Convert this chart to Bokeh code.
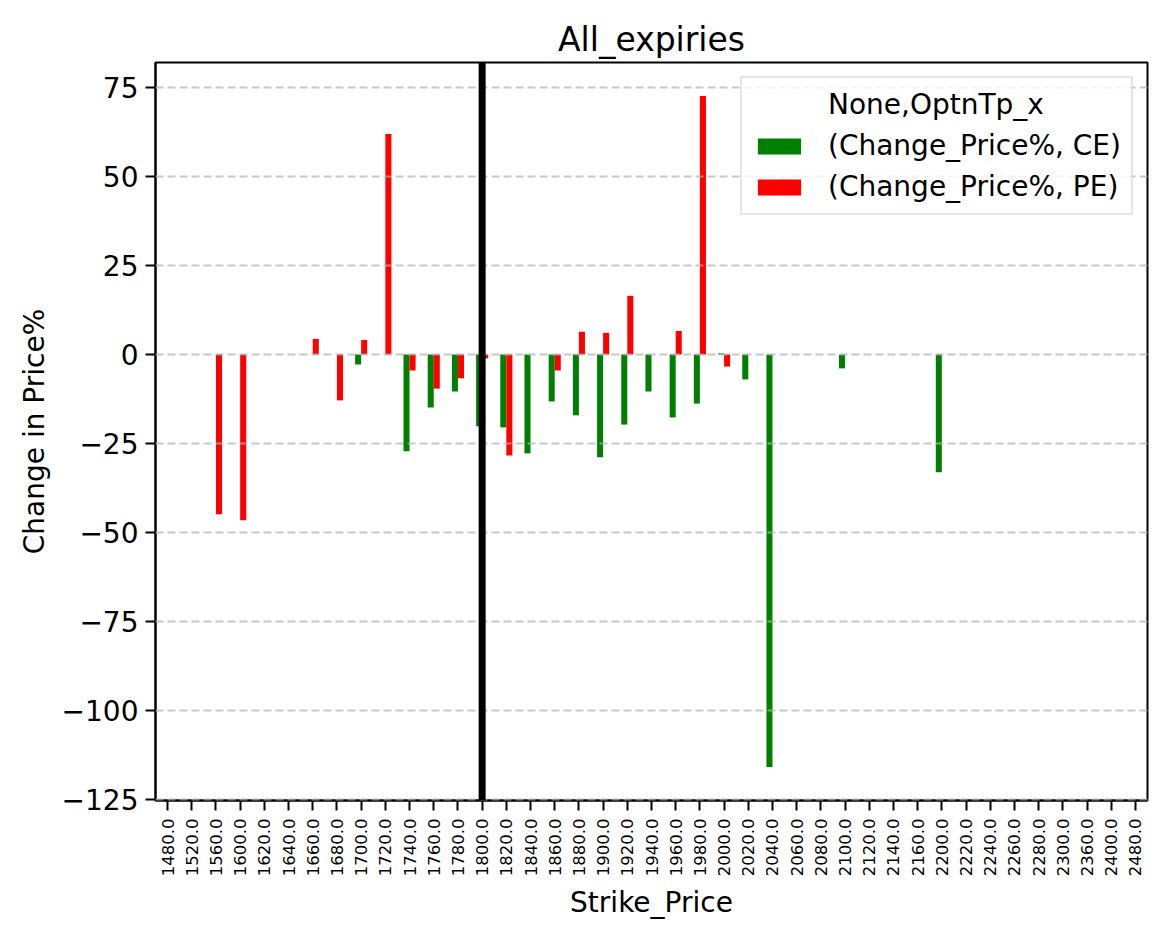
import math
import numpy as np
from bokeh.plotting import figure
from bokeh.models import (ColumnDataSource, FactorRange, Range1d, FixedTicker, Span,
                          Legend, LegendItem)
from bokeh.transform import dodge
from bokeh.embed import file_html
from bokeh.resources import INLINE

nan = float("nan")

strikes = [1480, 1520, 1560, 1600, 1620, 1640, 1660, 1680, 1700, 1720, 1740, 1760,
           1780, 1800, 1820, 1840, 1860, 1880, 1900, 1920, 1940, 1960, 1980, 2000,
           2020, 2040, 2060, 2080, 2100, 2120, 2140, 2160, 2200, 2220, 2240, 2260,
           2280, 2300, 2360, 2400, 2480]

ce_change = [nan, nan, nan, nan, nan, nan, nan, nan, -2.8, nan, -27.2, -14.9,
             -10.4, -20.2, -20.5, -27.8, -13.2, -17.1, -28.9, -19.7, -10.4, -17.7, -13.8, 0.3,
             -7.0, -116.0, nan, nan, -3.9, nan, nan, nan, -33.1, nan, nan, nan,
             nan, nan, nan, nan, nan]

pe_change = [nan, nan, -44.9, -46.6, nan, nan, 4.4, -12.9, 4.1, 62.0, -4.5, -9.6,
             -6.7, -1.1, -28.4, nan, -4.5, 6.4, 6.1, 16.5, nan, 6.6, 72.7, -3.4,
             nan, nan, nan, nan, nan, nan, nan, nan, nan, nan, nan, nan,
             nan, nan, nan, nan, nan]

spot_strike = 1800

y_ticks = [-125, -100, -75, -50, -25, 0, 25, 50, 75]
y_tick_labels = ["\u2212125", "\u2212100", "\u221275", "\u221250", "\u221225", "0", "25", "50", "75"]

title_text = "All_expiries"
x_label = "Strike_Price"
y_label = "Change in Price%"
legend_title = "None,OptnTp_x"
ce_label = "(Change_Price%, CE)"
pe_label = "(Change_Price%, PE)"

factors = [f"{s:.1f}" for s in strikes]
source = ColumnDataSource(data=dict(
    strike=factors,
    ce=np.array(ce_change, dtype=float),
    pe=np.array(pe_change, dtype=float),
))

FONT = "DejaVu Sans"

p = figure(width=1158, height=931, x_range=FactorRange(*factors),
           y_range=Range1d(-125.4, 82.1),
           output_backend="svg", toolbar_location=None,
           min_border_left=155, min_border_right=11, min_border_top=62,
           min_border_bottom=131)

p.title.text = title_text
p.title.align = "center"
p.title.text_font = FONT
p.title.text_font_size = "33px"
p.title.text_font_style = "normal"
p.title.text_color = "black"
p.title.standoff = 7

ce_r = p.vbar(x=dodge("strike", -0.125, range=p.x_range), top="ce", bottom=0, width=0.25,
              source=source, fill_color="green", line_color=None)
pe_r = p.vbar(x=dodge("strike", 0.125, range=p.x_range), top="pe", bottom=0, width=0.25,
              source=source, fill_color="red", line_color=None)

# dummy renderer used to hold the legend's title row
dummy_src = ColumnDataSource(data=dict(x=[], top=[]))
dummy_r = p.vbar(x="x", top="top", width=0.25, source=dummy_src,
                 fill_alpha=0, line_alpha=0)

# grid
p.xgrid.visible = False
p.ygrid.ticker = FixedTicker(ticks=y_ticks)
p.ygrid.grid_line_color = "#b0b0b0"
p.ygrid.grid_line_alpha = 0.7
p.ygrid.grid_line_width = 2
p.ygrid.grid_line_dash = "8 4"
p.ygrid.level = "guide"

# vertical spot line
vline_x = factors.index(f"{spot_strike:.1f}") + 0.5
p.add_layout(Span(location=vline_x, dimension="height", line_color="black", line_width=7))

# axes
p.outline_line_color = "black"
p.outline_line_width = 2
p.outline_line_alpha = 1

for ax in (p.xaxis[0], p.yaxis[0]):
    ax.axis_line_width = 2
    ax.axis_line_color = "black"
    ax.major_tick_line_width = 2
    ax.major_tick_line_color = "black"
    ax.major_tick_out = 10
    ax.major_tick_in = 0
    ax.minor_tick_line_color = None
    ax.axis_label_text_font = FONT
    ax.axis_label_text_font_size = "28px"
    ax.axis_label_text_font_style = "normal"
    ax.axis_label_text_color = "black"
    ax.major_label_text_font = FONT
    ax.major_label_text_color = "black"

p.xaxis.axis_label = x_label
p.xaxis.major_label_orientation = math.pi / 2
p.xaxis.major_label_text_font_size = "16.5px"
p.xaxis.major_label_standoff = 8
p.xaxis.axis_label_standoff = 7
p.xaxis.group_text_font_size = "0px"

p.yaxis.axis_label = y_label
p.yaxis.ticker = FixedTicker(ticks=y_ticks)
p.yaxis.major_label_overrides = {t: l for t, l in zip(y_ticks, y_tick_labels)}
p.yaxis.major_label_text_font_size = "28px"
p.yaxis.major_label_standoff = 7
p.yaxis.axis_label_standoff = 8

legend = Legend(items=[
    LegendItem(label=legend_title, renderers=[dummy_r]),
    LegendItem(label=ce_label, renderers=[ce_r]),
    LegendItem(label=pe_label, renderers=[pe_r]),
], location="top_right")
legend.label_text_font = FONT
legend.label_text_font_size = "28px"
legend.label_text_color = "black"
legend.glyph_width = 54
legend.glyph_height = 20
legend.label_standoff = 22
legend.spacing = 8
legend.padding = 10
legend.margin = 14
legend.border_line_color = "#cccccc"
legend.border_line_width = 2
legend.background_fill_alpha = 0.8
p.add_layout(legend)

open("out.html", "w").write(file_html(p, INLINE))
